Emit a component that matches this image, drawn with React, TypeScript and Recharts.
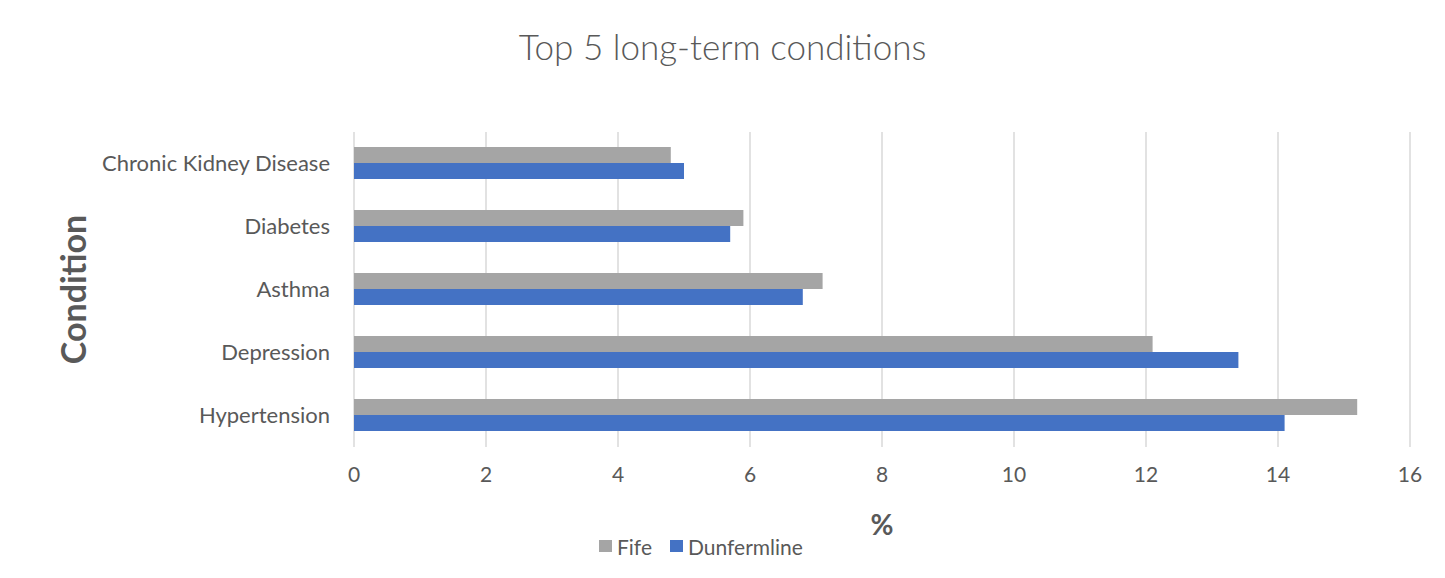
import { Bar, BarChart, CartesianGrid, Legend, XAxis, YAxis } from "recharts";

const conditions = [
  "Chronic Kidney Disease",
  "Diabetes",
  "Asthma",
  "Depression",
  "Hypertension",
];
const fife = [4.8, 5.9, 7.1, 12.1, 15.2];
const dunfermline = [5.0, 5.7, 6.8, 13.4, 14.1];
const xTicks = [0, 2, 4, 6, 8, 10, 12, 14, 16];

const FIFE_COLOR = "#a5a5a5";
const DUNF_COLOR = "#4472c4";
const TEXT = "#595959";
const FONT = "Lato, 'Open Sans', sans-serif";

const data = conditions.map((name, i) => ({
  name,
  fife: fife[i],
  dunfermline: dunfermline[i],
}));

function ChartLegend() {
  const items = [
    { label: "Fife", color: FIFE_COLOR, left: 599 },
    { label: "Dunfermline", color: DUNF_COLOR, left: 670 },
  ];
  return (
    <div style={{ position: "relative", width: 1445, height: 28 }}>
      {items.map((item) => (
        <div
          key={item.label}
          style={{
            position: "absolute",
            left: item.left,
            top: 0,
            height: 28,
            display: "flex",
            alignItems: "center",
            fontFamily: FONT,
            fontSize: 21,
            color: TEXT,
          }}
        >
          <span
            style={{
              display: "inline-block",
              width: 13,
              height: 12,
              background: item.color,
              marginRight: 5,
            }}
          />
          {item.label}
        </div>
      ))}
    </div>
  );
}

export default function App() {
  return (
    <div
      style={{
        position: "relative",
        width: 1445,
        height: 578,
        margin: "-8px 0 0 -8px",
        background: "#fff",
        fontFamily: FONT,
        overflow: "hidden",
      }}
    >
      <div
        style={{
          position: "absolute",
          left: 0,
          top: 25,
          width: 1445,
          textAlign: "center",
          fontSize: 35,
          fontWeight: 300,
          color: TEXT,
        }}
      >
        Top 5 long-term conditions
      </div>
      <div style={{ position: "absolute", left: 0, top: 0 }}>
        <BarChart
          width={1445}
          height={578}
          data={data}
          layout="vertical"
          margin={{ top: 132, right: 35, left: 0, bottom: 18 }}
          barCategoryGap="24%"
          barGap={0}
        >
          <rect
            x={5}
            y={6}
            width={1433}
            height={600}
            fill="none"
            stroke="#d9d9d9"
            strokeWidth={2}
          />
          <CartesianGrid horizontal={false} stroke="#d9d9d9" strokeWidth={1.5} />
          <XAxis
            type="number"
            domain={[0, 16]}
            ticks={xTicks}
            axisLine={false}
            tickLine={false}
            tickSize={0}
            tickMargin={20}
            height={85}
            tick={{ fill: TEXT, fontSize: 21, fontFamily: FONT }}
            label={{
              value: "%",
              position: "insideBottom",
              offset: -3,
              fill: TEXT,
              fontSize: 28,
              fontWeight: 700,
              fontFamily: FONT,
            }}
          />
          <YAxis
            type="category"
            dataKey="name"
            width={354}
            axisLine={false}
            tickLine={false}
            tickSize={0}
            tickMargin={24}
            tick={{ fill: TEXT, fontSize: 22, fontFamily: FONT }}
            label={{
              value: "Condition",
              angle: -90,
              position: "insideLeft",
              offset: 74,
              textAnchor: "middle",
              fill: TEXT,
              fontSize: 34,
              fontWeight: 700,
              fontFamily: FONT,
            }}
          />
          <Legend verticalAlign="bottom" height={28} content={() => <ChartLegend />} />
          <Bar dataKey="fife" name="Fife" fill={FIFE_COLOR} isAnimationActive={false} />
          <Bar
            dataKey="dunfermline"
            name="Dunfermline"
            fill={DUNF_COLOR}
            isAnimationActive={false}
          />
        </BarChart>
      </div>
    </div>
  );
}
